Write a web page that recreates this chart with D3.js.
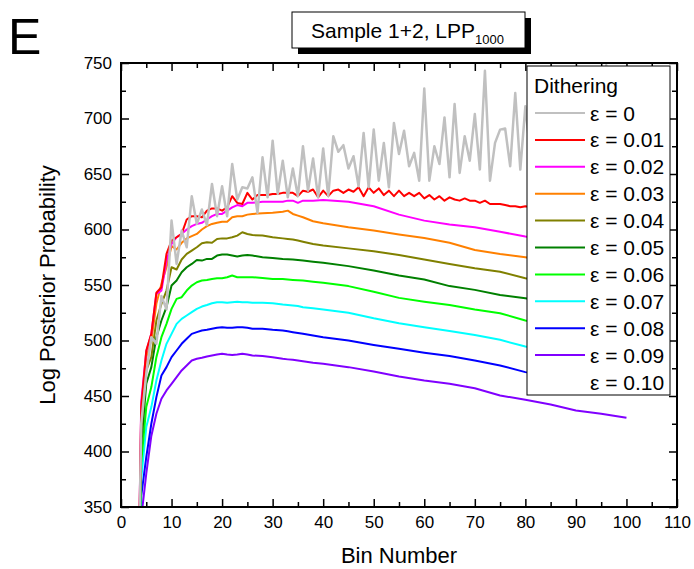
<!DOCTYPE html>
<html>
<head>
<meta charset="utf-8">
<script src="https://cdn.jsdelivr.net/npm/d3@7"></script>
<style>
  body { margin: 0; background: #fff; }
  text { font-family: "Liberation Sans", Arial, sans-serif; }
</style>
</head>
<body>
<div id="chart"></div>
<script>
// bins 3..100 for the jagged series, a coarser set for the smooth ones
const binsFine = d3.range(3, 101);
const binsCoarse = [3,4,5,6,7,8,9,10,11,12,13,14,15,16,17,18,19,20,21,22,23,24,25,26,
                    28,30,32,33,34,35,36,38,40,45,50,55,60,65,70,75,80,85,90,95,100];

const eps0 = [150,425,470,503,497,540,528,608,569,599,584,630,605,618,604,641,612,639,612,659,
              627,638,637,647,615,665,629,680,632,662,629,655,630,675,635,664,629,673,630,684,
              670,676,655,666,639,687,638,690,644,678,638,696,668,689,657,669,644,727,644,675,
              659,701,647,713,651,684,662,704,654,743,644,678,690,691,657,723,654,711,668,725,
              660,702,671,730,662,715,676,735,668,708,681,728,672,748,679,720,684,738];
const eps01 = [150,440,491,506,543,548,578,590,593,596,609,612,612,611,617,619,619,617,620,630,
               624,623,633,627,631,631,631,632,632,633,633,633,630,635,634,636,629,635,630,635,
               636,633,636,634,638,630,638,633,637,631,635,630,635,630,633,630,633,628,631,627,
               630,626,629,627,626,628,626,626,624,626,623,623,623,622,621,621,620,621,620,620,
               619,619,618,618,617,617,616,616,615,615,614,614,613,613,612,612,611,611];
const eps02 = [150,445,490,506,542,545,572,587,593,596,600,603,605,606,609,612,614,614,617,620,622,621,624,624,
               625,625,625,626,626,624,626,626,626.6,625,621,613.4,608,604.5,602,598,593.6,590,587,584,581];
const eps03 = [150,430,485,500,533,551,566,585,582,588,592,594,596,600,603,605,606,607,607,611,612,612,613.4,614,
               614.6,615,616,617,614,612.5,611,607.4,605.6,602,599,595.5,592.4,588,581.6,578,575,571,567,563,559];
const eps04 = [150,420,473,485,518,533,545,566,564,573,578,581,584,587.6,588.5,588,591.5,592,592,593,594.5,597.5,596,595,
               594.5,593,592,591.5,591,590,589,587,585.5,583,580.4,577,573,569,565,562,556,552,548,544,540];
const eps05 = [150,405,461,476,503,518,530,549.5,554,561.5,566,569,572.6,572,573.5,573.5,576.5,577.4,577.4,576.5,575.6,576.5,577,576.5,
               575,574.4,573.5,573.2,573,572.5,572,571,570,567,563,558.5,555,549,545.6,541,538,534,530,526,522];
const eps06 = [150,390,440,458,485,503,515,528.5,537.5,539,545,549.5,552.5,554,554.6,555.5,556,556,557,558.5,557,557,557,557,
               556.4,555.5,555.5,555,554.6,554.3,554,553,552,549,544,538.4,535,532,528,524.6,518,514,510,506,502];
const eps07 = [150,375,422,440,464,482,497,506,515,519.5,522.5,525.5,528.5,530.6,532,533.6,534.5,534.5,534,534.5,535,534.5,534.5,534,
               534,533.6,532.4,532,531.5,531,530,529,528,525,520,515.6,512,508.5,505,500.6,494.6,491,487,483,479];
const eps08 = [150,360,395,425,449,468.5,476,485,491,497,501.5,506,507.5,509,509.6,510.5,511.4,512,511.4,511.4,512,512,511.4,510.5,
               510.5,509.6,509,508.3,507.5,506.8,506,504.5,503,500,496,492.5,489,486,482,477.5,471.5,468,464,460,456];
const eps09 = [150,340,380,414,434,447.5,455,461,467,473,477.5,482,483.5,484.4,485.6,486.5,487.4,488,487.4,487,487.4,488,487.4,486.5,
               486,485,483.5,483,482.6,482,481.4,480,479,476,472,467.6,464,461,457,450.5,446.6,442.4,437,434,430.4];

const seriesNames = ["ε = 0","ε = 0.01","ε = 0.02","ε = 0.03","ε = 0.04","ε = 0.05",
                     "ε = 0.06","ε = 0.07","ε = 0.08","ε = 0.09","ε = 0.10"];
const seriesColors = ["#c0c0c0","#ff0000","#ff00ff","#ff8000","#808000","#008000",
                      "#00ff00","#00ffff","#0000ff","#8000ff", null];
const seriesValues = [eps0, eps01, eps02, eps03, eps04, eps05, eps06, eps07, eps08, eps09, []];
const seriesBins = [binsFine, binsFine, binsCoarse, binsCoarse, binsCoarse, binsCoarse,
                    binsCoarse, binsCoarse, binsCoarse, binsCoarse, []];

const xTicks = d3.range(0, 111, 10);
const yTicks = d3.range(350, 751, 50);

const W = 694, H = 569;
const margin = {top: 63, right: 17, bottom: 62, left: 121};
const width = W - margin.left - margin.right,
      height = H - margin.top - margin.bottom;

const svg = d3.select("#chart").append("svg")
    .attr("width", W).attr("height", H);

// panel letter
svg.append("text").attr("x", 8).attr("y", 54)
    .style("font-size", "50px").text("E");

// title box with shadow
const tb = {x: 292, y: 12, w: 233, h: 36};
svg.append("rect").attr("x", tb.x + 6).attr("y", tb.y + 6)
    .attr("width", tb.w).attr("height", tb.h).attr("fill", "#000");
svg.append("rect").attr("x", tb.x).attr("y", tb.y)
    .attr("width", tb.w).attr("height", tb.h)
    .attr("fill", "#fff").attr("stroke", "#000").attr("stroke-width", 1);
const title = svg.append("text").attr("x", tb.x + 19).attr("y", tb.y + 26)
    .style("font-size", "21px");
title.append("tspan").text("Sample 1+2, LPP");
title.append("tspan").attr("dy", 6).style("font-size", "13px").text("1000");

const g = svg.append("g")
    .attr("transform", "translate(" + margin.left + "," + margin.top + ")");

const x = d3.scaleLinear().domain([0, 110]).range([0, width]);
const y = d3.scaleLinear().domain([350, 750]).range([height, 0]);

g.append("clipPath").attr("id", "clip")
  .append("rect").attr("width", width).attr("height", height);

// Lines
const line = d3.line()
    .x(function(d) { return x(d[0]); })
    .y(function(d) { return y(d[1]); });

const plot = g.append("g").attr("clip-path", "url(#clip)");
for (let i = seriesValues.length - 1; i >= 0; i--) {
    if (!seriesColors[i]) continue;
    const pts = seriesBins[i].map(function(b, j) { return [b, seriesValues[i][j]]; });
    plot.append("path")
        .datum(pts)
        .attr("d", line)
        .attr("fill", "none")
        .attr("stroke", seriesColors[i])
        .attr("stroke-width", i === 0 ? 2.5 : 2)
        .attr("stroke-linejoin", "round");
}

// Axes: inward ticks on all four sides
function styleAxis(sel) {
    sel.select(".domain").remove();
    sel.selectAll("line").attr("stroke", "#000").attr("stroke-width", 1.5);
    sel.selectAll("text").style("font-size", "17px").attr("fill", "#000")
        .style("font-family", "'Liberation Sans', Arial, sans-serif");
}
const minorX = d3.range(5, 110, 10), minorY = d3.range(375, 750, 50);

g.append("g").attr("transform", "translate(0," + height + ")")
    .call(d3.axisBottom(x).tickValues(xTicks).tickSize(-8).tickPadding(9))
    .call(styleAxis);
g.append("g").attr("transform", "translate(0," + height + ")")
    .call(d3.axisBottom(x).tickValues(minorX).tickSize(-5).tickFormat(""))
    .call(styleAxis);
g.append("g")
    .call(d3.axisTop(x).tickValues(xTicks).tickSize(-8).tickFormat(""))
    .call(styleAxis);
g.append("g")
    .call(d3.axisTop(x).tickValues(minorX).tickSize(-5).tickFormat(""))
    .call(styleAxis);
g.append("g")
    .call(d3.axisLeft(y).tickValues(yTicks).tickSize(-8).tickPadding(9))
    .call(styleAxis);
g.append("g")
    .call(d3.axisLeft(y).tickValues(minorY).tickSize(-5).tickFormat(""))
    .call(styleAxis);
g.append("g").attr("transform", "translate(" + width + ",0)")
    .call(d3.axisRight(y).tickValues(yTicks).tickSize(-8).tickFormat(""))
    .call(styleAxis);
g.append("g").attr("transform", "translate(" + width + ",0)")
    .call(d3.axisRight(y).tickValues(minorY).tickSize(-5).tickFormat(""))
    .call(styleAxis);

g.append("rect").attr("width", width).attr("height", height)
    .attr("fill", "none").attr("stroke", "#000").attr("stroke-width", 2);

// axis titles
g.append("text")
    .attr("x", width / 2).attr("y", height + 56)
    .attr("text-anchor", "middle").style("font-size", "22px")
    .text("Bin Number");
svg.append("text")
    .attr("transform", "translate(55," + (margin.top + height / 2) + ")rotate(-90)")
    .attr("text-anchor", "middle").style("font-size", "22px")
    .text("Log Posterior Probability");

// legend
const lg = svg.append("g").attr("transform", "translate(527,66)");
lg.append("rect").attr("width", 143).attr("height", 329)
    .attr("fill", "#fff").attr("stroke", "#000").attr("stroke-width", 1);
lg.append("text").attr("x", 7).attr("y", 27).style("font-size", "21px").text("Dithering");
seriesNames.forEach(function(name, i) {
    const cy = 47 + i * 26.9;
    if (seriesColors[i]) {
        lg.append("line").attr("x1", 8).attr("x2", 58).attr("y1", cy).attr("y2", cy)
            .attr("stroke", seriesColors[i]).attr("stroke-width", 2);
    }
    lg.append("text").attr("x", 63).attr("y", cy + 7.5)
        .style("font-size", "21px").text(name);
});
</script>
</body>
</html>
